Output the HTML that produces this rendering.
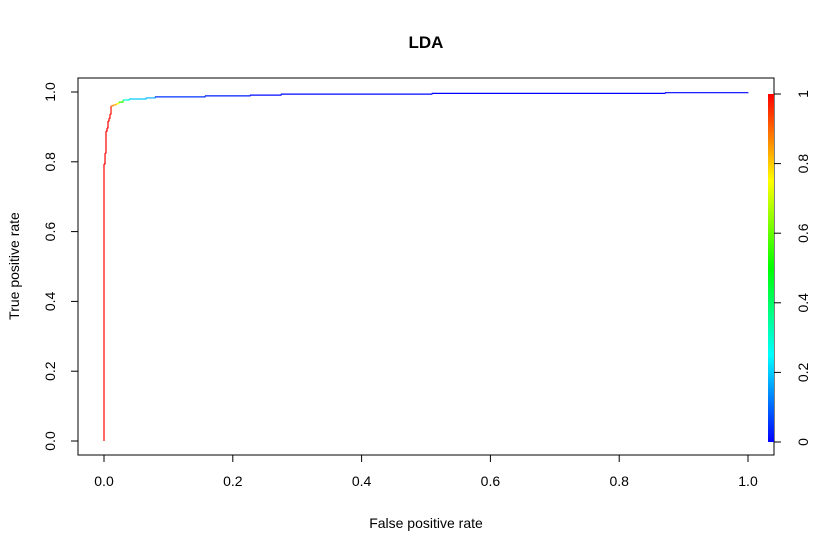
<!DOCTYPE html>
<html><head><meta charset="utf-8"><style>
body{margin:0;background:#fff}
svg text{font-family:"Liberation Sans",Arial,sans-serif;font-size:14px;fill:#000}
</style></head><body>
<svg id="chart" width="815" height="553">
<defs><linearGradient id="cb" x1="0" y1="1" x2="0" y2="0">
<stop offset="0" stop-color="#0000ff"/><stop offset="0.25" stop-color="#00ffff"/><stop offset="0.5" stop-color="#00ff00"/><stop offset="0.75" stop-color="#ffff00"/><stop offset="1" stop-color="#ff0000"/>
</linearGradient></defs>
<text x="426" y="48" text-anchor="middle" font-weight="bold" style="font-size:17px">LDA</text>
<rect x="78" y="78" width="696" height="377" fill="none" stroke="#000"/>
<g id="xaxis"></g>
<g id="yaxis"></g>
<g id="caxis"></g>
<rect x="768" y="94" width="6" height="348" fill="url(#cb)"/>
<g id="curve"></g>
<text x="426" y="528" text-anchor="middle">False positive rate</text>
<text transform="translate(19,266) rotate(-90)" text-anchor="middle">True positive rate</text>
</svg>
<script>
const fpr=[0,0,0.0016,0.0031,0.0047,0.0062,0.0078,0.0093,0.0109,0.014,0.0186,0.0217,0.0233,0.0295,0.0388,0.0652,0.0792,0.1568,0.2267,0.2748,0.509,0.871,1];
const tpr=[0,0.794,0.825,0.888,0.897,0.917,0.925,0.937,0.96,0.963,0.966,0.968,0.971,0.977,0.98,0.983,0.986,0.989,0.991,0.994,0.996,0.998,0.999];
const cutoff=[1,1,1,1,1,1,0.99,0.99,0.98,0.88,0.84,0.76,0.7,0.55,0.3,0.2,0.17,0.05,0.03,0.01,0.005,0.002,0];
const xTicks=[0,0.2,0.4,0.6,0.8,1];
const xTickLabels=["0.0","0.2","0.4","0.6","0.8","1.0"];
const yTicks=[0,0.2,0.4,0.6,0.8,1];
const yTickLabels=["0.0","0.2","0.4","0.6","0.8","1.0"];
const cTicks=[0,0.2,0.4,0.6,0.8,1];
const cTickLabels=["0","0.2","0.4","0.6","0.8","1"];
const NS="http://www.w3.org/2000/svg";
const X=v=>104+v*644, Y=v=>441-v*349, C=v=>442-v*348;
function mk(tag,attrs,parent,txt){const e=document.createElementNS(NS,tag);for(const k in attrs)e.setAttribute(k,attrs[k]);if(txt!=null)e.textContent=txt;parent.appendChild(e);return e;}
function col(c){return `hsl(${240*(1-c)},100%,50%)`;}
const xa=document.getElementById('xaxis');
mk('line',{x1:X(0),x2:X(1),y1:455,y2:455,stroke:'#000'},xa);
xTicks.forEach((t,i)=>{
 const l=mk('line',{x1:X(t),x2:X(t),y1:455,y2:462,stroke:'#000'},xa);
 
 
 const tx=mk('text',{x:X(t),y:486,'text-anchor':'middle'},xa,xTickLabels[i]);
 
 
});
const ya=document.getElementById('yaxis');
mk('line',{x1:78,x2:78,y1:Y(0),y2:Y(1),stroke:'#000'},ya);
yTicks.forEach((t,i)=>{
 const l=mk('line',{x1:71,x2:78,y1:Y(t),y2:Y(t),stroke:'#000'},ya);
 
 
 const tx=mk('text',{transform:`translate(55,${Y(t)}) rotate(-90)`,'text-anchor':'middle'},ya,yTickLabels[i]);
 
 
});
const ca=document.getElementById('caxis');
mk('line',{x1:774,x2:774,y1:C(0),y2:C(1),stroke:'#000'},ca);
cTicks.forEach((t,i)=>{
 const l=mk('line',{x1:774,x2:781,y1:C(t),y2:C(t),stroke:'#000'},ca);
 
 
 const tx=mk('text',{transform:`translate(808,${C(t)}) rotate(-90)`,'text-anchor':'middle'},ca,cTickLabels[i]);
 
 
});
const cv=document.getElementById('curve');
for(let i=1;i<fpr.length;i++){
 const p=mk('polyline',{points:`${X(fpr[i-1])},${Y(tpr[i-1])} ${X(fpr[i])},${Y(tpr[i-1])} ${X(fpr[i])},${Y(tpr[i])}`,fill:'none',stroke:col(cutoff[i]),'stroke-width':1.2},cv);
 
 
}
</script>
</body></html>
